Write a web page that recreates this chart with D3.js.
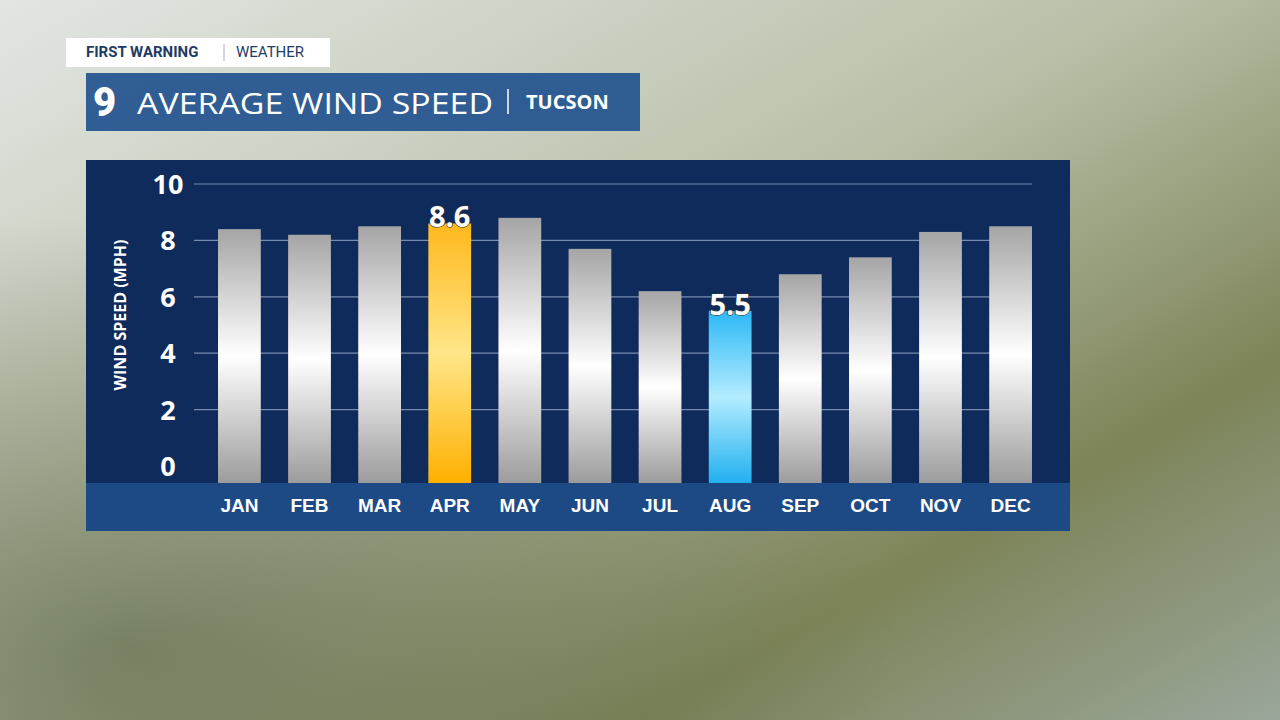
<!DOCTYPE html>
<html><head><meta charset="utf-8">
<script src="https://cdn.jsdelivr.net/npm/d3@7"></script>
<style>body{margin:0;overflow:hidden}svg{display:block}</style>
</head><body>
<script>
const months = ["JAN","FEB","MAR","APR","MAY","JUN","JUL","AUG","SEP","OCT","NOV","DEC"];
const windSpeed = [8.4, 8.2, 8.5, 8.6, 8.8, 7.7, 6.2, 5.5, 6.8, 7.4, 8.3, 8.5];
const yTicks = [0, 2, 4, 6, 8, 10];
const highlight = {APR: "gold", AUG: "blue"};

const W = 1280, H = 720;
const svg = d3.select("body").append("svg").attr("width", W).attr("height", H);
const defs = svg.append("defs");

const bg = defs.append("linearGradient").attr("id","bg").attr("x1",0).attr("y1",0).attr("x2",1).attr("y2",1);
bg.append("stop").attr("offset","0%").attr("stop-color","#e2e6e3");
bg.append("stop").attr("offset","45%").attr("stop-color","#b9c0a8");
bg.append("stop").attr("offset","75%").attr("stop-color","#7d8459");
bg.append("stop").attr("offset","100%").attr("stop-color","#9aa69a");
svg.append("rect").attr("width",W).attr("height",H).attr("fill","url(#bg)");
const bg2 = defs.append("radialGradient").attr("id","bg2").attr("cx","0.1").attr("cy","0.9").attr("r","0.6");
bg2.append("stop").attr("offset","0%").attr("stop-color","#5f6a4a").attr("stop-opacity",0.7);
bg2.append("stop").attr("offset","100%").attr("stop-color","#5f6a4a").attr("stop-opacity",0);
svg.append("rect").attr("width",W).attr("height",H).attr("fill","url(#bg2)");

function grad(id, stops){
  const g = defs.append("linearGradient").attr("id",id).attr("x1",0).attr("y1",0).attr("x2",0).attr("y2",1);
  stops.forEach(s=>g.append("stop").attr("offset",s[0]).attr("stop-color",s[1]));
}
grad("gGrey", [["0%","#a5a5a5"],["50%","#ffffff"],["100%","#9c9c9c"]]);
grad("gGold", [["0%","#ffb81c"],["50%","#ffe689"],["100%","#ffb000"]]);
grad("gBlue", [["0%","#2cb8f5"],["50%","#b3ecff"],["100%","#22b0f0"]]);

// header
svg.append("rect").attr("x",66).attr("y",38).attr("width",264).attr("height",29).attr("fill","#fff");
svg.append("text").attr("x",86).attr("y",57).attr("font-family","Roboto, sans-serif").attr("font-weight",700)
  .attr("font-size",15).attr("fill","#1f3b66").text("FIRST WARNING");
svg.append("line").attr("x1",224).attr("x2",224).attr("y1",44).attr("y2",61).attr("stroke","#aab").attr("stroke-width",1);
svg.append("text").attr("x",236).attr("y",57).attr("font-family","Roboto, sans-serif")
  .attr("font-size",15).attr("fill","#1f3b66").text("WEATHER");
svg.append("rect").attr("x",86).attr("y",73).attr("width",554).attr("height",58).attr("fill","#24548f").attr("opacity",0.93);
svg.append("text").attr("x",93).attr("y",116).attr("font-family","Roboto, sans-serif").attr("font-weight",900)
  .attr("font-size",40).attr("fill","#fff").text("9");
svg.append("text").attr("x",137).attr("y",114).attr("font-family","'Open Sans', sans-serif")
  .attr("font-size",29).attr("textLength",356).attr("lengthAdjust","spacingAndGlyphs").attr("fill","#fff").text("AVERAGE WIND SPEED");
svg.append("line").attr("x1",508).attr("x2",508).attr("y1",89).attr("y2",114).attr("stroke","#fff").attr("stroke-width",1.5);
svg.append("text").attr("x",526).attr("y",109).attr("font-family","'Open Sans', sans-serif").attr("font-weight",700)
  .attr("font-size",20).attr("fill","#fff").text("TUCSON");

// panel
svg.append("rect").attr("x",86).attr("y",160).attr("width",984).attr("height",371).attr("fill","#0f2b5c");
svg.append("rect").attr("x",86).attr("y",483).attr("width",984).attr("height",48).attr("fill","#1d4a85");

const x = d3.scaleBand().domain(months).range([204,1046]).paddingInner(0.39).paddingOuter(0.2);
const y = d3.scaleLinear().domain([0,10]).range([466,184]);
const base = 483;

const grid = svg.append("g");
grid.selectAll("line").data(yTicks.filter(d=>d>0)).join("line")
  .attr("x1",194).attr("x2",1032).attr("y1",d=>y(d)).attr("y2",d=>y(d))
  .attr("stroke","#8fa3c4").attr("stroke-width",1.2).attr("opacity",0.8);
grid.selectAll("text").data(yTicks).join("text")
  .attr("x",168).attr("y",d=>d===0?476:y(d)+10)
  .attr("text-anchor","middle").attr("font-family","'Open Sans', sans-serif").attr("font-weight",700)
  .attr("font-size",27).attr("fill","#fff").text(d=>d);

svg.append("text").attr("transform","translate(126,315) rotate(-90)").attr("text-anchor","middle")
  .attr("font-family","'Open Sans', sans-serif").attr("font-weight",700).attr("font-size",16).attr("fill","#fff")
  .text("WIND SPEED (MPH)");

const data = months.map((m,i)=>({m, v: windSpeed[i]}));
svg.append("g").selectAll("rect").data(data).join("rect")
  .attr("x",d=>x(d.m)).attr("width",x.bandwidth())
  .attr("y",d=>y(d.v)).attr("height",d=>base-y(d.v))
  .attr("fill",d=>highlight[d.m]==="gold"?"url(#gGold)":highlight[d.m]==="blue"?"url(#gBlue)":"url(#gGrey)");

svg.append("g").selectAll("text").data(data.filter(d=>highlight[d.m])).join("text")
  .attr("x",d=>x(d.m)+x.bandwidth()/2).attr("y",d=>y(d.v)+4)
  .attr("text-anchor","middle").attr("font-family","'Open Sans', sans-serif").attr("font-weight",700)
  .attr("font-size",29).attr("fill","#fff").attr("stroke","#333").attr("stroke-width",1.2).attr("paint-order","stroke")
  .text(d=>d.v.toFixed(1));

svg.append("g").selectAll("text").data(months).join("text")
  .attr("x",d=>x(d)+x.bandwidth()/2).attr("y",512).attr("text-anchor","middle")
  .attr("font-family","'Liberation Sans', Arial, sans-serif").attr("font-weight",700).attr("font-size",19).attr("fill","#fff")
  .text(d=>d);
</script>
</body></html>
